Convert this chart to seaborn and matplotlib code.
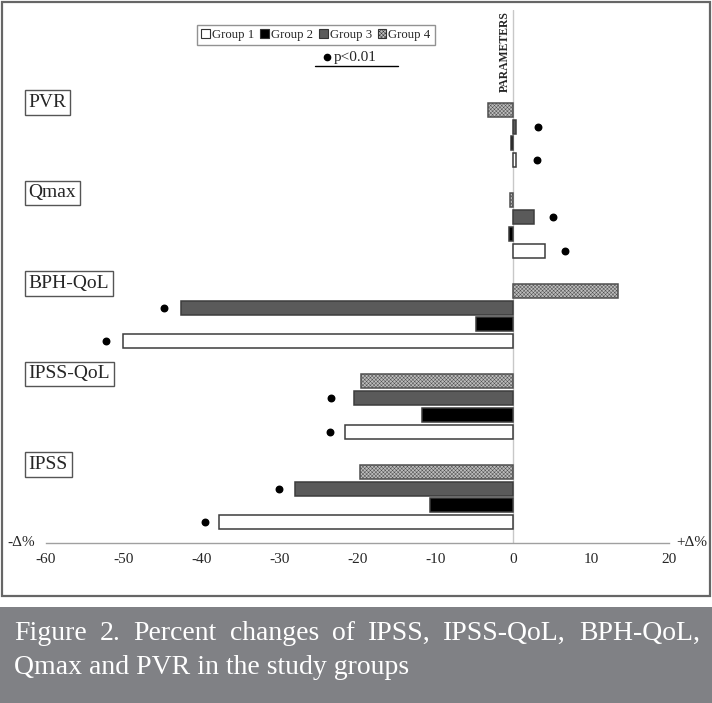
import numpy as np
import pandas as pd
import matplotlib
matplotlib.use("Agg")
import matplotlib.pyplot as plt
import matplotlib.transforms as mtransforms
from matplotlib.patches import Patch, Rectangle
from matplotlib.lines import Line2D
import seaborn as sns

# data (percent change)
params = ["PVR", "Qmax", "BPH-QoL", "IPSS-QoL", "IPSS"]
groups = ["Group 1", "Group 2", "Group 3", "Group 4"]
group1 = [0.4, 4.1, -50.1, -21.6, -37.8]
group2 = [-0.3, -0.5, -4.8, -11.7, -10.7]
group3 = [0.3, 2.7, -42.7, -20.4, -28.0]
group4 = [-3.2, -0.4, 13.4, -19.6, -19.7]
# p<0.01 markers (x position of dot next to the bar)
dot_group1 = [3.1, 6.7, -52.3, -23.5, -39.6]
dot_group3 = [3.2, 5.1, -44.9, -23.4, -30.1]

face = {"Group 1": "#ffffff", "Group 2": "#000000", "Group 3": "#5a5a5a", "Group 4": "#bdbdbd"}
caption = ["Figure 2. Percent changes of IPSS, IPSS-QoL, BPH-QoL,",
           "Qmax and PVR in the study groups"]

df = pd.DataFrame({
    "param": params * 4,
    "group": sum([[g] * len(params) for g in groups], []),
    "change": group1 + group2 + group3 + group4,
})

sns.set_style("white")
plt.rcParams["font.family"] = ["Liberation Serif", "DejaVu Serif"]
plt.rcParams["axes.unicode_minus"] = False
plt.rcParams["hatch.linewidth"] = 0.35

W, H = 712, 703
fig = plt.figure(figsize=(W / 100, H / 100), dpi=100)
ax = fig.add_axes([46 / W, 1 - 543 / H, 623 / W, 533 / H])

hue_order = ["Group 4", "Group 3", "Group 2", "Group 1"]
sns.barplot(data=df, x="change", y="param", hue="group", order=params,
            hue_order=hue_order, palette=face, orient="y", width=0.74,
            gap=0.16, edgecolor="#3c3c3c", linewidth=1.1, legend=False, ax=ax)

conts = dict(zip(hue_order, ax.containers))
for bar in conts["Group 4"]:
    bar.set_hatch("xxxxxxxxx")
    bar.set_edgecolor("#505050")

for g, dots in [("Group 1", dot_group1), ("Group 3", dot_group3)]:
    ys = [b.get_y() + b.get_height() / 2 for b in conts[g]]
    ax.scatter(dots, ys, s=22, color="black", zorder=5)

ax.set_xlim(-60, 20)
ax.set_ylim(4.508, -1.381)
ax.axvline(0, color="#c8c8c8", lw=1, zorder=0)
ax.set_xticks(range(-60, 21, 10))
ax.tick_params(axis="x", direction="in", length=5, color="#a0a0a0",
               labelsize=11, pad=7)
ax.set_yticks([])
ax.set_xlabel("")
ax.set_ylabel("")
for s in ["top", "left", "right"]:
    ax.spines[s].set_visible(False)
ax.spines["bottom"].set_color("#a0a0a0")
ax.spines["bottom"].set_linewidth(1)

# parameter name boxes
blend = mtransforms.blended_transform_factory(ax.transAxes, ax.transData)
for i, p in enumerate(params):
    ax.text(-0.028, i - 0.36, p, transform=blend, ha="left", va="center",
            fontsize=14, bbox=dict(boxstyle="square,pad=0.2", fc="white",
                                   ec="#555555", lw=1))

ax.text(-0.3, -1.37, "PARAMETERS", rotation=90, ha="right", va="top",
        fontsize=8.5, fontweight="bold")

fig.text(35 / W, 1 - 543 / H, "-Δ%", ha="right", va="center", fontsize=11)
fig.text(676 / W, 1 - 543 / H, "+Δ%", ha="left", va="center", fontsize=11)

# legend
handles = [Patch(facecolor=face[g], edgecolor="#333333", lw=0.8,
                 hatch="xxxxxxxxx" if g == "Group 4" else None) for g in groups]
fig.legend(handles, groups, loc="center", bbox_to_anchor=(316 / W, 1 - 35 / H),
           ncol=4, fontsize=9.2, handlelength=0.7, handleheight=0.7,
           handletextpad=0.15, columnspacing=0.45, borderpad=0.35,
           frameon=True, fancybox=False, edgecolor="#777777")
fig.add_artist(Line2D([327 / W], [1 - 57 / H], marker="o", markersize=4.5,
                      color="black", lw=0))
fig.text(334 / W, 1 - 57 / H, "p<0.01", ha="left", va="center", fontsize=11)
fig.add_artist(Line2D([315 / W, 398 / W], [1 - 66 / H, 1 - 66 / H],
                      color="black", lw=1))

# frame around chart
fig.add_artist(Rectangle((1.5 / W, 1 - 596 / H), 708 / W, 594 / H,
                         transform=fig.transFigure, fill=False,
                         ec="#666666", lw=1.6))

# caption box
fig.add_artist(Rectangle((0, 0), 1, 96 / H, transform=fig.transFigure,
                         fc="#808185", ec="none"))
fig.canvas.draw()
r = fig.canvas.get_renderer()
words = caption[0].split(" ")
fs = 20
widths = []
for w in words:
    t = fig.text(0, 0, w, fontsize=fs)
    widths.append(t.get_window_extent(r).width)
    t.remove()
left, right = 14, 700
gapw = (right - left - sum(widths)) / (len(words) - 1)
x = left
for w, wd in zip(words, widths):
    fig.text(x / W, 1 - 633 / H, w, fontsize=fs, color="white", va="center")
    x += wd + gapw
fig.text(left / W, 1 - 668 / H, caption[1], fontsize=fs, color="white",
         va="center")

fig.savefig("out.png", dpi=100)
